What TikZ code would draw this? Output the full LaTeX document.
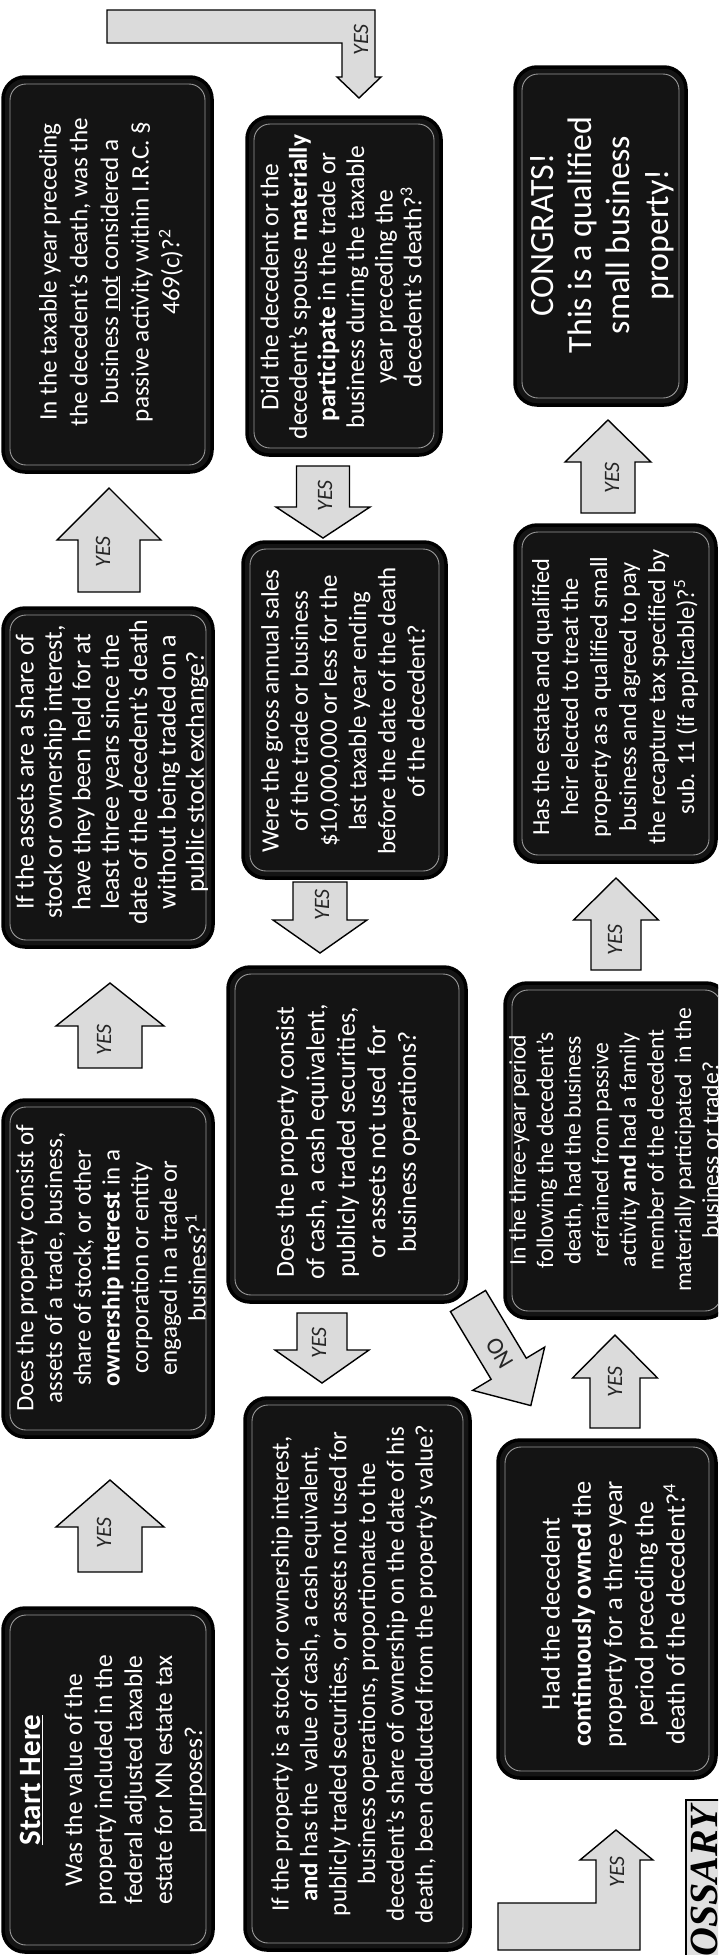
\documentclass[tikz,border=0pt]{standalone}
\usepackage{fontspec}
\setmainfont{Carlito}
\newfontfamily\glfont{Liberation Serif}
\newcommand{\fz}[2]{\fontsize{#1}{#2}\selectfont}
\tikzset{
  boxouter/.style={fill=black!92, draw=black, line width=3.5pt, rounded corners=22pt},
  boxinner/.style={draw=black!40, line width=0.9pt, rounded corners=16pt},
  txt/.style={text=white, align=center, rotate=90, inner sep=0pt},
  arrowshape/.style={fill=black!14, draw=black, line width=1.4pt, line join=miter},
  lbl/.style={rotate=90, font=\fz{22}{24}\itshape, text=black!85, inner sep=0pt},
}
% box: x1 y1 x2 y2
\newcommand{\qbox}[4]{%
  \draw[boxouter] (#1,#2) rectangle (#3,#4);
  \draw[boxinner] ({#1+7},{#2+7}) rectangle ({#3-7},{#4-7});}
% block arrow: base x, base y, angle, length, shaft w, head w, head length
\newcommand{\barrow}[7]{%
  \begin{scope}[shift={(#1,#2)}, rotate=#3]
    \draw[arrowshape] (0,{-#5/2}) -- ({#4-#7},{-#5/2}) -- ({#4-#7},{-#6/2}) -- (#4,0)
      -- ({#4-#7},{#6/2}) -- ({#4-#7},{#5/2}) -- (0,{#5/2}) -- cycle;
  \end{scope}}
\begin{document}
\begin{tikzpicture}[x=1pt,y=-1pt]
\useasboundingbox (0,0) rectangle (718,1955);
\clip (0,0) rectangle (718,1955);
\fill[white] (0,0) rectangle (718,1955);

% ---------- boxes ----------
\qbox{3}{1608}{213}{1952}
\node[txt, font=\fz{25.5}{30}] (start) at (113,1780)
  {{\fz{31}{31}\bfseries\underline{Start Here}}\\[12pt]
   Was the value of the\\ property included in the\\ federal adjusted taxable\\
   estate for MN estate tax\\ purposes?};

\qbox{3}{1100}{213}{1437}
\node[txt, font=\fz{25}{28.7}] (assets) at (111,1268)
  {Does the property consist of\\ assets of a trade, business,\\ share of stock, or other\\
   \textbf{ownership interest} in a\\ corporation or entity\\ engaged in a trade or\\
   business?\textsuperscript{1}};

\qbox{3}{608}{213}{947}
\node[txt, font=\fz{26}{28.4}] (shares) at (112,772)
  {If the assets are a share of\\ stock or ownership interest,\\ have they been held for at\\
   least three years since the\\ date of the decedent’s death\\ without being traded on a\\
   public stock exchange?};

\qbox{3}{77}{212}{472}
\node[txt, font=\fz{25.2}{30.7}] (passive) at (111,272)
  {In the taxable year preceding\\ the decedent’s death, was the\\
   business \underline{not} considered a\\ passive activity within I.R.C. §\\
   469(c)?\textsuperscript{2}};

\qbox{247}{117}{441}{455}
\node[txt, font=\fz{25.5}{28.6}] (material) at (341,287)
  {Did the decedent or the\\ decedent’s spouse \textbf{materially}\\
   \textbf{participate} in the trade or\\ business during the taxable\\
   year preceding the\\ decedent’s death?\textsuperscript{3}};

\qbox{243}{542}{446}{878}
\node[txt, font=\fz{25}{29.2}] (sales) at (343,711)
  {Were the gross annual sales\\ of the trade or business\\ \$10,000,000 or less for the\\
   last taxable year ending\\ before the date of the death\\ of the decedent?};

\qbox{228}{967}{466}{1302}
\node[txt, font=\fz{26}{30.5}] (cash) at (348,1142)
  {Does the property consist\\ of cash, a cash equivalent,\\ publicly traded securities,\\
   or assets not used\ \ for\\ business operations?};

\qbox{245}{1398}{470}{1950}
\node[txt, font=\fz{25}{28.8}] (deduct) at (354,1674)
  {If the property is a stock or ownership interest,\\
   \textbf{and} has the\ \ value of cash, a cash equivalent,\\
   publicly traded securities, or assets not used for\\
   business operations, proportionate to the\\
   decedent’s share of ownership on the date of his\\
   death, been deducted from the property’s value?};

\qbox{498}{1440}{716}{1778}
\node[txt, font=\fz{26.5}{31.2}] (owned) at (613,1614)
  {Had the decedent\\ \textbf{continuously owned} the\\ property for a three year\\
   period preceding the\\ death of the decedent?\textsuperscript{4}};

\qbox{505}{983}{728}{1318}
\node[txt, font=\fz{23.7}{27.6}] (refrain) at (614,1150)
  {In the three-year period\\ following the decedent’s\\ death, had the business\\
   refrained from passive\\ activity \textbf{and} had a family\\ member of the decedent\\
   materially participated\ \ in the\\ business or trade?};

\qbox{515}{525}{716}{862}
\node[txt, font=\fz{24.5}{29}] (recapture) at (615,697)
  {Has the estate and qualified\\ heir elected to treat the\\ property as a qualified small\\
   business and agreed to pay\\ the recapture tax specified by\\
   sub. 11 (if applicable)?\textsuperscript{5}};

\qbox{515}{67}{686}{405}
\node[txt, font=\fz{34}{38.3}] (congrats) at (602,235)
  {CONGRATS!\\ This is a qualified\\ small business\\ property!};

% glossary (cut off)
\draw[fill=black!12, draw=black, line width=1.5pt] (686,1800) rectangle (760,2010);
\node[rotate=90, anchor=base east, inner sep=0pt, font=\fz{40}{40}\glfont\bfseries\itshape]
  (gloss) at (717,1806) {GLOSSARY};

% ---------- straight block arrows ----------
\barrow{110}{1572}{90}{92}{64}{108}{47}
\node[lbl] (y1) at (104,1533) {YES};
\barrow{110}{1068}{90}{85}{64}{108}{43}
\node[lbl] (y2) at (104,1040) {YES};
\barrow{109}{592}{90}{104}{62}{104}{52}
\node[lbl] (y3) at (103,552) {YES};

\barrow{323}{466}{-90}{72}{53}{94}{31}
\node[lbl] (y4) at (325,496) {YES};
\barrow{320}{882}{-90}{71}{54}{94}{33}
\node[lbl] (y5) at (322,905) {YES};
\barrow{322}{1313}{-90}{70}{50}{94}{33}
\node[lbl] (y6) at (319,1343) {YES};

\barrow{615}{1428}{90}{93}{50}{85}{43}
\node[lbl] (y7) at (615,1382) {YES};
\barrow{616}{970}{90}{92}{50}{85}{42}
\node[lbl] (y8) at (615,940) {YES};
\barrow{608}{513}{90}{93}{54}{86}{42}
\node[lbl] (y9) at (612,478) {YES};

% NO arrow (diagonal)
\barrow{468}{1301}{-59}{122}{41}{84}{43}
\node[rotate=121, font=\fz{24}{26}, text=black!85, inner sep=0pt] (no) at (500,1353) {NO};

% ---------- L-shaped arrows ----------
\draw[arrowshape] (107,10) -- (375,10) -- (375,77) -- (381,77) -- (359,98) -- (337,77)
  -- (342,77) -- (342,43) -- (107,43) -- cycle;
\node[lbl] (ytop) at (361,40) {YES};

\draw[arrowshape] (498,1903) -- (596,1903) -- (596,1860) -- (580,1860) -- (616,1830)
  -- (653,1860) -- (640,1860) -- (640,1950) -- (498,1950) -- cycle;
\node[lbl] (ybot) at (617,1872) {YES};
\end{tikzpicture}
\end{document}
